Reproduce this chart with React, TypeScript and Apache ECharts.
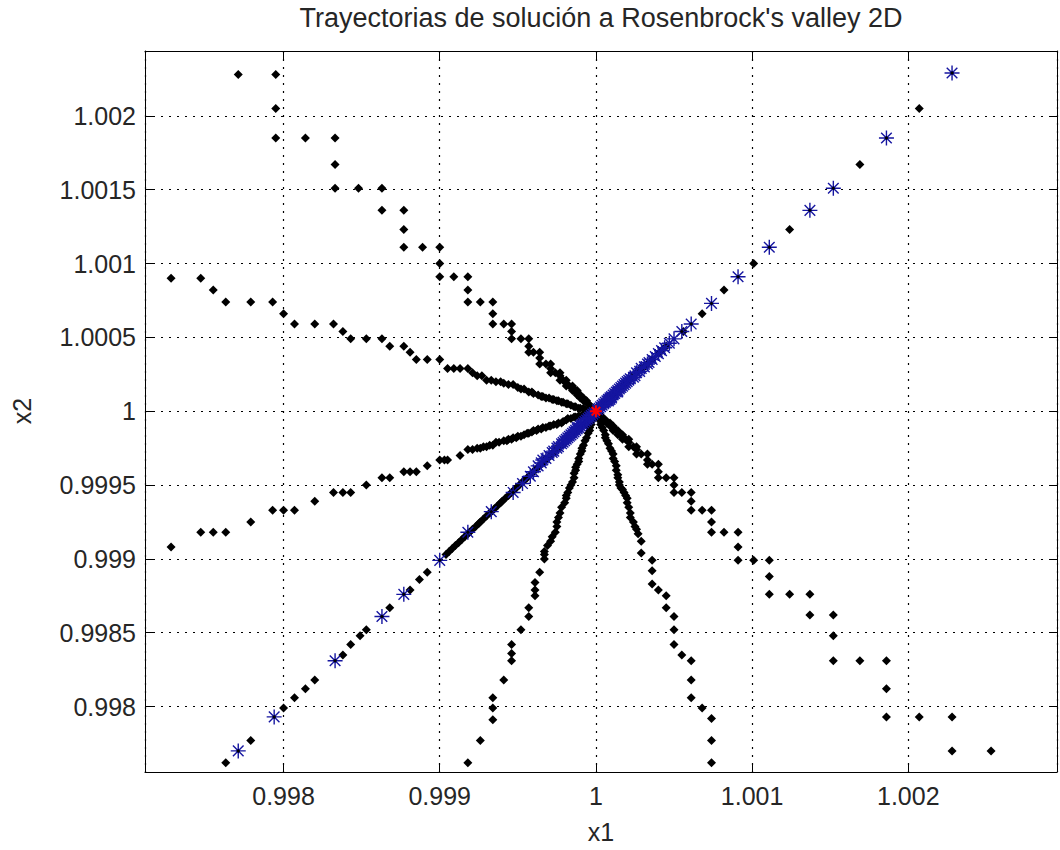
import React, { useEffect, useRef } from "react";
import * as echarts from "echarts";

// Axis ticks and visible ranges
const xTicks = [0.998, 0.999, 1, 1.001, 1.002];
const yTicks = [0.998, 0.9985, 0.999, 0.9995, 1, 1.0005, 1.001, 1.0015, 1.002];
const xRange = [0.997113, 1.002952];
const yRange = [0.997557, 1.002439];

const titleText = "Trayectorias de solución a Rosenbrock's valley 2D";
const xName = "x1";
const yName = "x2";

// Black dot trajectories (x1, x2)
const trajNW: number[][] = [
  [0.99771, 1.00228], [0.99795, 1.00228], [0.99795, 1.00205], [0.99795, 1.00185],
  [0.99814, 1.00185], [0.99833, 1.00185], [0.99833, 1.00167], [0.99833, 1.00151],
  [0.99848, 1.00151], [0.99863, 1.00151], [0.99863, 1.00136], [0.99877, 1.00136],
  [0.99877, 1.00123], [0.99877, 1.00111], [0.99889, 1.00111], [0.999, 1.00111],
  [0.999, 1.001], [0.999, 1.00091], [0.99909, 1.00091], [0.99918, 1.00091],
  [0.99918, 1.00082], [0.99918, 1.00074], [0.99926, 1.00074], [0.99934, 1.00074],
  [0.99934, 1.00066], [0.99934, 1.00059], [0.99941, 1.00059], [0.99946, 1.00059],
  [0.99946, 1.00054], [0.99946, 1.00049], [0.99952, 1.00049], [0.99957, 1.00049],
  [0.99957, 1.00044], [0.99957, 1.0004], [0.9996, 1.0004], [0.99964, 1.0004],
  [0.99964, 1.00036], [0.99964, 1.00032], [0.99968, 1.00032], [0.99971, 1.00032],
  [0.99971, 1.00029], [0.99971, 1.00026], [0.99974, 1.00026], [0.99977, 1.00026],
  [0.99977, 1.00024], [0.99977, 1.00021], [0.99979, 1.00021], [0.99981, 1.00021],
  [0.99981, 1.00019], [0.99981, 1.00017], [0.99983, 1.00017], [0.99985, 1.00017],
  [0.99985, 1.00016], [0.99985, 1.00014], [0.99986, 1.00014], [0.99988, 1.00014],
  [0.99988, 1.00013], [0.99988, 1.00011], [0.99989, 1.00011], [0.9999, 1.00011],
  [0.9999, 1.0001], [0.9999, 1.00009], [0.99991, 1.00009], [0.99992, 1.00009],
  [0.99992, 1.00008], [0.99992, 1.00007], [0.99993, 1.00007], [0.99994, 1.00007],
  [0.99994, 1.00006], [0.99995, 1.00005], [0.99996, 1.00004], [0.99997, 1.00003],
  [0.99998, 1.00002], [0.99999, 1.00001],
];

const trajWNW: number[][] = [
  [0.99728, 1.0009], [0.99747, 1.0009], [0.99755, 1.00082], [0.99763, 1.00074],
  [0.99779, 1.00074], [0.99793, 1.00074], [0.998, 1.00066], [0.99807, 1.00059],
  [0.9982, 1.00059], [0.99832, 1.00059], [0.99838, 1.00054], [0.99843, 1.00049],
  [0.99853, 1.00049], [0.99863, 1.00049], [0.99868, 1.00044], [0.99877, 1.00044],
  [0.99881, 1.0004], [0.99885, 1.00035], [0.99892, 1.00035], [0.999, 1.00035],
  [0.99905, 1.00029], [0.99909, 1.00029], [0.99913, 1.00029], [0.99918, 1.00029],
  [0.99921, 1.00026], [0.99924, 1.00024], [0.99927, 1.00024], [0.9993, 1.00021],
  [0.99933, 1.00021], [0.99936, 1.0002], [0.99939, 1.0002], [0.99941, 1.00019],
  [0.99944, 1.00018], [0.99947, 1.00018], [0.9995, 1.00016], [0.99952, 1.00015],
  [0.99954, 1.00015], [0.99957, 1.00013], [0.99959, 1.00013], [0.9996, 1.00012],
  [0.99963, 1.00011], [0.99965, 1.0001], [0.99966, 1.0001], [0.99968, 1.00009],
  [0.9997, 1.00009], [0.99972, 1.00008], [0.99973, 1.00008], [0.99975, 1.00007],
  [0.99976, 1.00007], [0.99978, 1.00006], [0.99979, 1.00006], [0.99981, 1.00005],
  [0.99982, 1.00005], [0.99984, 1.00004], [0.99986, 1.00003], [0.99987, 1.00003],
  [0.99989, 1.00002], [0.9999, 1.00002], [0.99992, 1.00002], [0.99993, 1.00001],
  [0.99995, 1.00001], [0.99997, 1.00001], [0.99998, 1.0],
];

const trajWSW: number[][] = [
  [0.99728, 0.99908], [0.99747, 0.99918], [0.99755, 0.99918], [0.99763, 0.99918],
  [0.99779, 0.99925], [0.99793, 0.99933], [0.998, 0.99933], [0.99807, 0.99933],
  [0.9982, 0.99939], [0.99832, 0.99945], [0.99838, 0.99945], [0.99843, 0.99945],
  [0.99853, 0.9995], [0.99863, 0.99955], [0.99868, 0.99955], [0.99877, 0.99959],
  [0.99881, 0.99959], [0.99885, 0.99959], [0.99892, 0.99963], [0.999, 0.99967],
  [0.99903, 0.99967], [0.99905, 0.99967], [0.99913, 0.9997], [0.99918, 0.99974],
  [0.99921, 0.99974], [0.99924, 0.99975], [0.99926, 0.99975], [0.99928, 0.99976],
  [0.9993, 0.99976], [0.99932, 0.99977], [0.99934, 0.99977], [0.99936, 0.99979],
  [0.99938, 0.99979], [0.99941, 0.9998], [0.99943, 0.9998], [0.99944, 0.99981],
  [0.99946, 0.99981], [0.99947, 0.99982], [0.99949, 0.99982], [0.9995, 0.99983],
  [0.99952, 0.99983], [0.99954, 0.99984], [0.99956, 0.99985], [0.99957, 0.99985],
  [0.99959, 0.99986], [0.9996, 0.99987], [0.99962, 0.99987], [0.99963, 0.99988],
  [0.99965, 0.99988], [0.99966, 0.99989], [0.99968, 0.99989], [0.9997, 0.9999],
  [0.99971, 0.9999], [0.99973, 0.99991], [0.99975, 0.99991], [0.99976, 0.99992],
  [0.99978, 0.99992], [0.99979, 0.99993], [0.99981, 0.99994], [0.99982, 0.99995],
  [0.99984, 0.99995], [0.99986, 0.99996], [0.99987, 0.99996], [0.99989, 0.99997],
  [0.99991, 0.99997], [0.99992, 0.99998], [0.99994, 0.99998], [0.99995, 0.99999],
  [0.99997, 0.99999], [0.99998, 1.0],
];

const trajSW: number[][] = [
  [0.99763, 0.99762], [0.99779, 0.99777], [0.998, 0.99799], [0.99807, 0.99806],
  [0.99814, 0.99812], [0.9982, 0.99818], [0.99838, 0.99835], [0.99843, 0.99842],
  [0.99849, 0.99848], [0.99853, 0.99852], [0.99868, 0.99867], [0.99881, 0.99879],
  [0.99887, 0.99886], [0.99892, 0.99891], [0.99904, 0.99903], [0.99906, 0.99905],
  [0.99908, 0.99907], [0.9991, 0.99909], [0.99912, 0.99911], [0.99914, 0.99913],
  [0.99916, 0.99915], [0.99918, 0.99917], [0.99919, 0.99918], [0.99921, 0.9992],
  [0.99923, 0.99922], [0.99925, 0.99924], [0.99926, 0.99925], [0.99928, 0.99927],
  [0.9993, 0.99929], [0.99932, 0.99931], [0.99933, 0.99932], [0.99935, 0.99934],
  [0.99937, 0.99936], [0.99939, 0.99938], [0.9994, 0.99939], [0.99942, 0.99941],
  [0.99944, 0.99943], [0.99946, 0.99945], [0.99947, 0.99946], [0.99949, 0.99948],
  [0.99951, 0.9995], [0.99953, 0.99952], [0.99954, 0.99953], [0.99956, 0.99955],
  [0.99958, 0.99957], [0.9996, 0.99959], [0.99961, 0.9996], [0.99963, 0.99962],
  [0.99965, 0.99964], [0.99967, 0.99966], [0.99968, 0.99968], [0.9997, 0.99969],
  [0.99972, 0.99971], [0.99974, 0.99973], [0.99975, 0.99975], [0.99977, 0.99976],
  [0.99979, 0.99978], [0.99981, 0.9998], [0.99982, 0.99982], [0.99984, 0.99983],
  [0.99986, 0.99985], [0.99988, 0.99987], [0.99989, 0.99989], [0.99991, 0.9999],
  [0.99993, 0.99992], [0.99995, 0.99994], [0.99996, 0.99996], [0.99998, 0.99998],
  [0.99999, 0.99999],
];

const trajSSW: number[][] = [
  [0.99918, 0.99762], [0.99926, 0.99777], [0.99934, 0.99791], [0.99934, 0.99799],
  [0.99934, 0.99806], [0.99941, 0.99818], [0.99946, 0.99831], [0.99946, 0.99836],
  [0.99946, 0.99842], [0.99952, 0.99852], [0.99957, 0.99861], [0.99957, 0.99867],
  [0.99961, 0.99875], [0.99961, 0.99879], [0.99961, 0.99884], [0.99964, 0.99891],
  [0.99967, 0.999], [0.99967, 0.99903], [0.99967, 0.99905], [0.99969, 0.99909],
  [0.99971, 0.99912], [0.99972, 0.99915], [0.99974, 0.99918], [0.99975, 0.99922],
  [0.99975, 0.99925], [0.99976, 0.99928], [0.99977, 0.99931], [0.99978, 0.99935],
  [0.9998, 0.99938], [0.99981, 0.99941], [0.99981, 0.99943], [0.99982, 0.99945],
  [0.99983, 0.99948], [0.99984, 0.9995], [0.99985, 0.99952], [0.99986, 0.99955],
  [0.99986, 0.99958], [0.99987, 0.9996], [0.99987, 0.99962], [0.99988, 0.99964],
  [0.99989, 0.99966], [0.99989, 0.99968], [0.9999, 0.99971], [0.99991, 0.99973],
  [0.99991, 0.99975], [0.99992, 0.99977], [0.99993, 0.9998], [0.99994, 0.99982],
  [0.99995, 0.99985], [0.99996, 0.99987], [0.99996, 0.99989], [0.99997, 0.99991],
  [0.99998, 0.99994], [0.99999, 0.99996], [0.99999, 0.99998],
];

const trajSSE: number[][] = [
  [1.00074, 0.99762], [1.00074, 0.99777], [1.00074, 0.99792], [1.00068, 0.99799],
  [1.00061, 0.99806], [1.00061, 0.99818], [1.00061, 0.99831], [1.00055, 0.99835],
  [1.0005, 0.99842], [1.0005, 0.99852], [1.0005, 0.99861], [1.00045, 0.99867],
  [1.00045, 0.99875], [1.0004, 0.99879], [1.00036, 0.99883], [1.00036, 0.99892],
  [1.00036, 0.99899], [1.00029, 0.99904], [1.00029, 0.99912], [1.00027, 0.99917],
  [1.00026, 0.9992], [1.00025, 0.99922], [1.00024, 0.99925], [1.00022, 0.99928],
  [1.00022, 0.99931], [1.00021, 0.99935], [1.0002, 0.99938], [1.0002, 0.99941],
  [1.00019, 0.99943], [1.00018, 0.99945], [1.00017, 0.99947], [1.00016, 0.99948],
  [1.00015, 0.9995], [1.00015, 0.99952], [1.00014, 0.99955], [1.00014, 0.99957],
  [1.00013, 0.9996], [1.00013, 0.99963], [1.00012, 0.99966], [1.00011, 0.99968],
  [1.00011, 0.99971], [1.0001, 0.99973], [1.00009, 0.99975], [1.00008, 0.99978],
  [1.00007, 0.9998], [1.00006, 0.99982], [1.00006, 0.99984], [1.00005, 0.99987],
  [1.00004, 0.99989], [1.00003, 0.99991], [1.00003, 0.99993], [1.00002, 0.99995],
  [1.00001, 0.99997], [1.00001, 0.99999],
];

const trajSE: number[][] = [
  [1.00253, 0.9977], [1.00228, 0.9977], [1.00228, 0.99793], [1.00207, 0.99793],
  [1.00186, 0.99793], [1.00186, 0.99812], [1.00186, 0.99831], [1.00169, 0.99831],
  [1.00152, 0.99831], [1.00152, 0.99848], [1.00152, 0.99862], [1.00137, 0.99862],
  [1.00137, 0.99876], [1.00124, 0.99876], [1.00111, 0.99876], [1.00111, 0.99888],
  [1.00111, 0.99899], [1.00101, 0.99899], [1.00091, 0.99899], [1.00091, 0.99908],
  [1.00091, 0.99918], [1.00082, 0.99918], [1.00074, 0.99918], [1.00074, 0.99925],
  [1.00074, 0.99933], [1.00068, 0.99933], [1.00061, 0.99933], [1.00061, 0.99939],
  [1.00061, 0.99945], [1.00055, 0.99945], [1.0005, 0.99945], [1.0005, 0.9995],
  [1.0005, 0.99955], [1.00045, 0.99955], [1.0004, 0.99955], [1.0004, 0.99959],
  [1.0004, 0.99964], [1.00036, 0.99964], [1.00033, 0.99964], [1.00033, 0.99967],
  [1.00033, 0.99971], [1.00029, 0.99971], [1.00026, 0.99971], [1.00026, 0.99974],
  [1.00026, 0.99976], [1.00024, 0.99976], [1.00021, 0.99976], [1.00021, 0.99979],
  [1.00021, 0.99981], [1.00019, 0.99981], [1.00017, 0.99981], [1.00017, 0.99983],
  [1.00017, 0.99984], [1.00016, 0.99984], [1.00014, 0.99984], [1.00014, 0.99986],
  [1.00014, 0.99987], [1.00013, 0.99987], [1.00011, 0.99987], [1.00011, 0.99989],
  [1.00011, 0.9999], [1.0001, 0.9999], [1.00009, 0.9999], [1.00009, 0.99991],
  [1.00009, 0.99992], [1.00008, 0.99992], [1.00007, 0.99992], [1.00007, 0.99993],
  [1.00006, 0.99994], [1.00005, 0.99995], [1.00004, 0.99996], [1.00003, 0.99997],
  [1.00002, 0.99998], [1.00001, 0.99999],
];

const trajNE: number[][] = [
  [1.00207, 1.00205], [1.00169, 1.00167], [1.00124, 1.00123], [1.00101, 1.001],
  [1.00082, 1.00082], [1.00068, 1.00066], [1.00056, 1.00054], [1.00045, 1.00044],
  [1.00042, 1.00041], [1.0004, 1.00039], [1.00036, 1.00035], [1.00033, 1.00032],
  [1.00031, 1.0003], [1.00029, 1.00029], [1.00027, 1.00027], [1.00026, 1.00026],
  [1.00024, 1.00024], [1.00023, 1.00023], [1.00021, 1.00021], [1.00019, 1.00019],
  [1.00018, 1.00018], [1.00016, 1.00016], [1.00015, 1.00015], [1.00013, 1.00013],
  [1.00012, 1.00012], [1.0001, 1.0001], [1.00009, 1.00009], [1.00008, 1.00008],
  [1.00007, 1.00007], [1.00006, 1.00006], [1.00005, 1.00005], [1.00004, 1.00004],
  [1.00003, 1.00003], [1.00002, 1.00002], [1.00001, 1.00001],
];

// Asterisk trajectories along the valley diagonal
const starsNE: number[][] = [
  [1.00228, 1.00229], [1.00186, 1.00185], [1.00152, 1.00151], [1.00137, 1.00136],
  [1.00111, 1.00111], [1.00091, 1.00091], [1.00074, 1.00073], [1.00061, 1.00059],
  [1.00055, 1.00054], [1.0005, 1.00049], [1.00047, 1.00046], [1.00044, 1.00043],
  [1.00042, 1.00041], [1.0004, 1.00039], [1.00038, 1.00037], [1.00036, 1.00035],
  [1.00034, 1.00033], [1.00033, 1.00032], [1.00031, 1.0003], [1.00029, 1.00029],
  [1.00028, 1.00027], [1.00026, 1.00026], [1.00025, 1.00024], [1.00024, 1.00023],
  [1.00022, 1.00022], [1.00021, 1.00021], [1.0002, 1.0002], [1.00019, 1.00019],
  [1.00018, 1.00018], [1.00017, 1.00017], [1.00016, 1.00016], [1.00015, 1.00015],
  [1.00014, 1.00014], [1.00014, 1.00013], [1.00013, 1.00013], [1.00012, 1.00012],
  [1.00011, 1.00011], [1.0001, 1.0001], [1.0001, 1.00009], [1.00009, 1.00009],
  [1.00009, 1.00008], [1.00008, 1.00008], [1.00008, 1.00007], [1.00007, 1.00007],
  [1.00006, 1.00006], [1.00005, 1.00005], [1.00004, 1.00004], [1.00003, 1.00003],
  [1.00002, 1.00002], [1.00001, 1.00001],
];

const starsSW: number[][] = [
  [0.99771, 0.9977], [0.99794, 0.99793], [0.99833, 0.99831], [0.99863, 0.99861],
  [0.99877, 0.99876], [0.999, 0.99899], [0.99918, 0.99918], [0.99933, 0.99932],
  [0.99947, 0.99945], [0.99953, 0.99951], [0.99958, 0.99956], [0.9996, 0.99959],
  [0.99963, 0.99963], [0.99965, 0.99965], [0.99966, 0.99967], [0.99968, 0.99968],
  [0.9997, 0.9997], [0.99972, 0.99972], [0.99973, 0.99973], [0.99975, 0.99975],
  [0.99976, 0.99976], [0.99978, 0.99978], [0.99979, 0.99979], [0.9998, 0.9998],
  [0.99981, 0.99981], [0.99982, 0.99982], [0.99983, 0.99983], [0.99984, 0.99984],
  [0.99985, 0.99985], [0.99986, 0.99986], [0.99987, 0.99987], [0.99988, 0.99988],
  [0.99988, 0.99989], [0.99989, 0.99989], [0.9999, 0.9999], [0.99991, 0.99991],
  [0.99992, 0.99992], [0.99993, 0.99993], [0.99994, 0.99994], [0.99995, 0.99995],
  [0.99996, 0.99996], [0.99997, 0.99997], [0.99998, 0.99998], [0.99999, 0.99999],
];

const minimum: number[][] = [[1, 1]];

const FONT = "'Liberation Sans', Arial, Helvetica, sans-serif";
const TEXT = "#262626";
const STAR_COLOR = "#1515a0";
const STAR = "path://M10,0L10,20M0,10L20,10M2.93,2.93L17.07,17.07M2.93,17.07L17.07,2.93";

const onTicks = (ticks: number[]) => (v: number) =>
  ticks.some((t) => Math.abs(t - v) < 1e-9) ? String(Number(v.toFixed(5))) : "";

const dotSeries = (name: string, data: number[][], size = 9) => ({
  name,
  type: "scatter",
  data,
  symbol: "diamond",
  symbolSize: size,
  itemStyle: { color: "#000", opacity: 1 },
  silent: true,
});

const starSeries = (name: string, data: number[][], color: string, size: number, width: number) => ({
  name,
  type: "scatter",
  data,
  symbol: STAR,
  symbolSize: size,
  itemStyle: { color: "transparent", borderColor: color, borderWidth: width, opacity: 1 },
  silent: true,
});

const gridLine = { show: true, lineStyle: { color: "#000", width: 1.2, type: [2, 6] } };
const frameLine = { show: true, onZero: false, lineStyle: { color: "#000", width: 1 } };
const innerTick = { show: true, inside: true, length: 8, lineStyle: { color: "#000", width: 1 } };

const xStep = Number((xTicks[1] - xTicks[0]).toPrecision(6));
const yStep = Number((yTicks[1] - yTicks[0]).toPrecision(6));

const axisBase = (range: number[], step: number) => ({
  type: "value",
  min: range[0],
  max: range[1],
  minInterval: step,
  maxInterval: step,
  axisLine: frameLine,
  axisTick: innerTick,
});

const tickLabel = (ticks: number[], margin: number) => ({
  fontSize: 25,
  color: TEXT,
  fontFamily: FONT,
  margin,
  showMinLabel: false,
  showMaxLabel: false,
  formatter: onTicks(ticks),
});

const nameText = (text: string, x: number, y: number, size: number, rotation = 0) => ({
  type: "text",
  x,
  y,
  rotation,
  style: {
    text,
    fontSize: size,
    fontFamily: FONT,
    fill: TEXT,
    textAlign: "center",
    textVerticalAlign: "middle",
  },
});

const option = {
  animation: false,
  backgroundColor: "#fff",
  grid: { left: 145, right: 3, top: 51, bottom: 78, containLabel: false },
  xAxis: [
    { ...axisBase(xRange, xStep), position: "bottom", axisLabel: tickLabel(xTicks, 11), splitLine: gridLine },
    { ...axisBase(xRange, xStep), position: "top", axisLabel: { show: false }, splitLine: { show: false } },
  ],
  yAxis: [
    { ...axisBase(yRange, yStep), position: "left", axisLabel: tickLabel(yTicks, 9), splitLine: gridLine },
    { ...axisBase(yRange, yStep), position: "right", axisLabel: { show: false }, splitLine: { show: false } },
  ],
  graphic: [
    nameText(titleText, 601, 18, 27),
    nameText(xName, 601, 832, 25),
    nameText(yName, 22, 411, 25, Math.PI / 2),
  ],
  series: [
    dotSeries("NW", trajNW),
    dotSeries("WNW", trajWNW),
    dotSeries("WSW", trajWSW),
    dotSeries("SW", trajSW),
    dotSeries("SSW", trajSSW),
    dotSeries("SSE", trajSSE),
    dotSeries("SE", trajSE),
    dotSeries("NE", trajNE),
    starSeries("NE*", starsNE, STAR_COLOR, 15, 1.4),
    starSeries("SW*", starsSW, STAR_COLOR, 15, 1.4),
    // dark hub at the centre of the outer asterisks
    dotSeries("NE* hub", starsNE.slice(0, 9), 4),
    dotSeries("SW* hub", starsSW.slice(0, 9), 4),
    starSeries("min", minimum, "#ff0000", 12, 2),
  ],
};

export default function App() {
  const ref = useRef<HTMLDivElement>(null);
  useEffect(() => {
    if (!ref.current) return;
    const chart = echarts.init(ref.current, undefined, { renderer: "svg" });
    chart.setOption(option as any);
    return () => chart.dispose();
  }, []);
  return (
    <div
      ref={ref}
      style={{ position: "absolute", left: 0, top: 0, width: 1060, height: 850, background: "#fff" }}
    />
  );
}
